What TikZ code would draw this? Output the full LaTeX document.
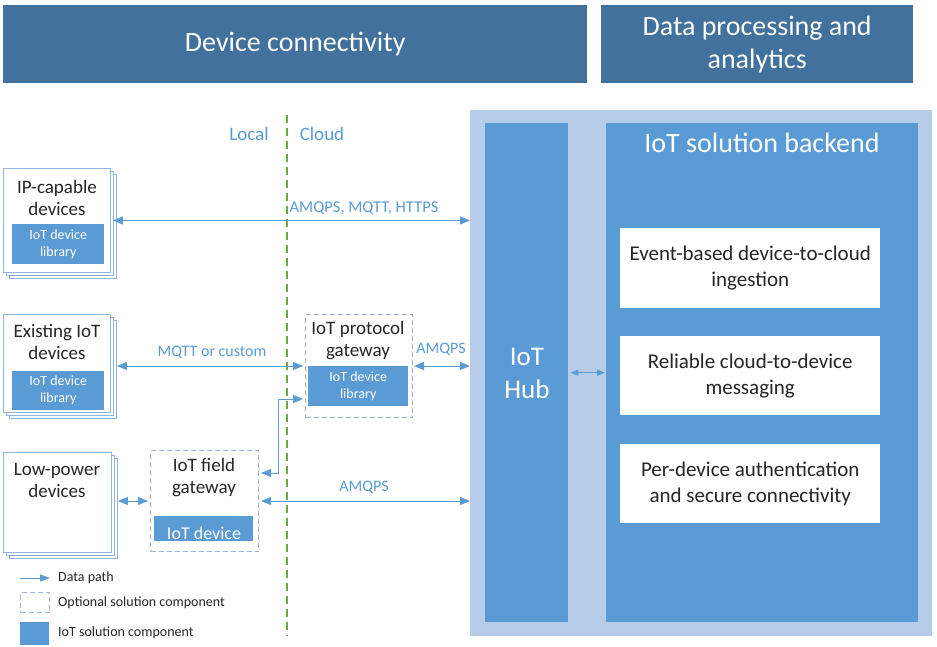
\documentclass[tikz,border=0pt]{standalone}
\usepackage{fontspec}
\setmainfont{Carlito}
\usetikzlibrary{arrows.meta,positioning}
\definecolor{hdr}{HTML}{41719C}
\definecolor{mid}{HTML}{5B9BD5}
\definecolor{lite}{HTML}{B7CCE9}
\definecolor{brd}{HTML}{8EB4E3}
\definecolor{dsh}{HTML}{9DB3CF}
\definecolor{grn}{HTML}{6AAA3E}
\definecolor{txt}{HTML}{262626}
\definecolor{lbl}{HTML}{5B9BD5}
\tikzset{
  fs/.style n args={2}{font=\fontsize{#1}{#2}\selectfont},
  header/.style={fill=hdr, draw=none, text=white, anchor=north west, align=center, inner sep=0pt},
  devbox/.style={fill=white, draw=brd, line width=0.9pt, anchor=north west, inner sep=0pt},
  libbox/.style={fill=mid, draw=none, text=white, anchor=north west, align=center, inner sep=0pt, fs={14}{17}},
  optbox/.style={draw=dsh, line width=1pt, dash pattern=on 5pt off 3pt, anchor=north west, inner sep=0pt},
  arr/.style={draw=mid, line width=1pt, {Triangle[length=10pt,width=8pt]}-{Triangle[length=10pt,width=8pt]}},
  arrone/.style={draw=mid, line width=1pt, -{Triangle[length=10pt,width=7pt]}},
  blbl/.style={text=lbl, inner sep=0pt},
  dtxt/.style={text=txt, align=center, inner sep=0pt},
  wbox/.style={fill=white, draw=none, anchor=north west, text=txt, align=center, inner sep=0pt, fs={21}{26}},
}
\newcommand{\stackbox}[5]{%
  \draw[brd, line width=0.9pt, fill=white] (#2+6,#3+6) rectangle ++(#4,#5);
  \draw[brd, line width=0.9pt, fill=white] (#2+3,#3+3) rectangle ++(#4,#5);
  \node[devbox, minimum width=#4pt, minimum height=#5pt] (#1) at (#2,#3) {};
}
\begin{document}
\begin{tikzpicture}[x=1pt,y=-1pt]
\useasboundingbox (0,0) rectangle (937,646);
% headers
\node[header, minimum width=584pt, minimum height=78pt, fs={28}{33}] (h1) at (3,5) {Device connectivity};
\node[header, minimum width=312pt, minimum height=78pt, fs={28}{33}] (h2) at (601,5) {Data processing and\\analytics};
% cloud area
\node[fill=lite, anchor=north west, minimum width=462pt, minimum height=526pt, inner sep=0pt] (outer) at (470,110) {};
\node[fill=mid, anchor=north west, minimum width=83pt, minimum height=499pt, inner sep=0pt] (hub) at (485,123) {};
\node[text=white, align=center, fs={27}{33}, inner sep=0pt] (hubt) at (527,373) {IoT\\Hub};
\node[fill=mid, anchor=north west, minimum width=312pt, minimum height=499pt, inner sep=0pt] (be) at (606,123) {};
\node[text=white, fs={28}{33}, inner sep=0pt] (bet) at (762,143) {IoT solution backend};
\node[wbox, minimum width=260pt, minimum height=80pt] (w1) at (620,228) {Event-based device-to-cloud\\ingestion};
\node[wbox, minimum width=260pt, minimum height=79pt] (w2) at (620,336) {Reliable cloud-to-device\\messaging};
\node[wbox, minimum width=260pt, minimum height=79pt] (w3) at (620,444) {Per-device authentication\\and secure connectivity};
\draw[draw=mid, line width=0.9pt, {Triangle[length=8pt,width=6pt]}-{Triangle[length=8pt,width=6pt]}, shorten <=2pt, shorten >=1pt] (hub.east) -- (be.west);
% local/cloud divider
\coordinate (gtop) at (287,115);
\coordinate (gbot) at (287,636);
\draw[grn, line width=2.6pt, dash pattern=on 8pt off 5pt] (gtop) -- (gbot);
\node[blbl, fs={19}{22}] (local) at (249,134) {Local};
\node[blbl, fs={19}{22}] (cloud) at (322,134) {Cloud};
% IP-capable devices
\stackbox{ip}{3}{168}{107}{104}
\node[dtxt, fs={19}{22}] (ipt) at (57,198) {IP-capable\\devices};
\node[libbox, minimum width=92pt, minimum height=40pt] (iplib) at (12,224) {IoT device\\library};
% Existing IoT devices
\stackbox{ex}{3}{314}{107}{98}
\node[dtxt, fs={19}{22}] (ext) at (57,342) {Existing IoT\\devices};
\node[libbox, minimum width=92pt, minimum height=39pt] (exlib) at (12,371) {IoT device\\library};
% Low-power devices
\stackbox{lp}{3}{452}{108}{100}
\node[dtxt, fs={19}{22}] (lpt) at (57,480) {Low-power\\devices};
% protocol gateway
\node[optbox, minimum width=107pt, minimum height=103pt] (pg) at (305,314) {};
\node[dtxt, fs={19}{22}] (pgt) at (358,341) {IoT protocol\\gateway};
\node[libbox, minimum width=100pt, minimum height=40pt] (pglib) at (308,366) {IoT device\\library};
% field gateway
\node[optbox, minimum width=108pt, minimum height=101pt] (fg) at (150,450) {};
\node[dtxt, fs={19}{22}] (fgt) at (204,478) {IoT field\\gateway};
\node[libbox, minimum width=99pt, minimum height=25pt, fs={18}{20}, anchor=north west] (fglib) at (154,516) {};
\begin{scope}
\clip (154,516) rectangle (253,541);
\node[text=white, fs={18}{20}, inner sep=0pt, anchor=base] (fgtxt) at (204,539) {IoT device};
\end{scope}
% connectors
\draw[arr] ([xshift=2pt]ip.east) -- (outer.west |- ip.east);
\node[blbl, fs={16.5}{19}] (l1) at (364,208) {AMQPS, MQTT, HTTPS};
\draw[arr] ([xshift=6pt]ex.east |- pg.west) -- ([xshift=-2pt]pg.west);
\node[blbl, fs={16}{19}] (l2) at (212,352) {MQTT or custom};
\draw[arr] ([xshift=1pt]pg.east) -- (outer.west |- pg.east);
\node[blbl, fs={16}{19}] (l3) at (441,349) {AMQPS};
\draw[arr] ([xshift=6pt]lp.east |- fg.west) -- ([xshift=-2pt]fg.west);
\draw[arr] ([xshift=2pt]fg.east) -- (outer.west |- fg.east);
\node[blbl, fs={16}{19}] (l4) at (364,487) {AMQPS};
\draw[arr] ([xshift=2pt,yshift=28pt]fg.east) -- ++(17,0) |- ([xshift=-2pt,yshift=-33pt]pg.west);
% legend
\coordinate (lg1) at (20,578);
\coordinate (lg2) at (50,578);
\draw[arrone] (lg1) -- (lg2);
\node[text=txt, fs={14}{17}, anchor=west, inner sep=0pt] (lt1) at (58,578) {Data path};
\node[optbox, minimum width=29pt, minimum height=20pt] (lgd) at (20,592) {};
\node[text=txt, fs={14}{17}, anchor=west, inner sep=0pt] (lt2) at (58,603) {Optional solution component};
\node[fill=mid, anchor=north west, minimum width=29pt, minimum height=23pt, inner sep=0pt] (lgf) at (20,622) {};
\node[text=txt, fs={14}{17}, anchor=west, inner sep=0pt] (lt3) at (58,633) {IoT solution component};
\end{tikzpicture}
\end{document}
